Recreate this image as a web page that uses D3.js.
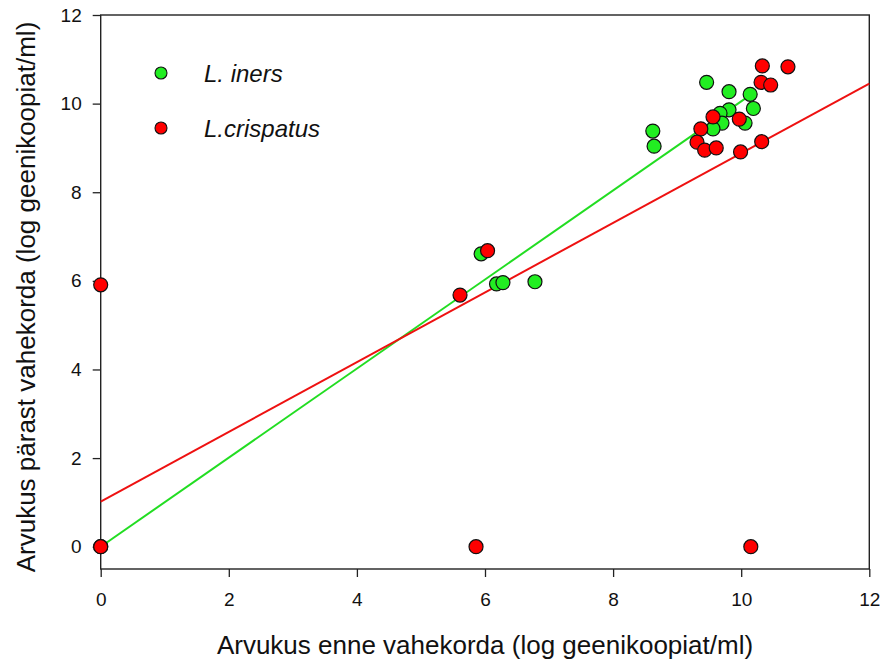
<!DOCTYPE html>
<html>
<head>
<meta charset="utf-8">
<script src="https://cdn.jsdelivr.net/npm/d3@7"></script>
<style>
body { margin: 0; background: #fff; }
text { font-family: "Liberation Sans", Arial, sans-serif; }
</style>
</head>
<body>
<div id="display-scatter"></div>
<script>
// L. iners points
var inersX = [0, 5.94, 6.18, 6.28, 6.78, 8.62, 8.64, 9.46, 9.81, 10.14, 10.19, 9.81, 9.67, 9.70, 9.56, 10.06];
var inersY = [0, 6.61, 5.93, 5.96, 5.98, 9.38, 9.04, 10.48, 10.27, 10.21, 9.89, 9.86, 9.78, 9.56, 9.43, 9.56];
// L. crispatus points
var crispX = [0, 0, 5.86, 10.15, 5.61, 6.04, 10.33, 10.73, 10.31, 10.46, 9.56, 9.97, 9.37, 9.31, 9.43, 9.61, 9.99, 10.32];
var crispY = [5.91, 0, 0, 0, 5.68, 6.68, 10.85, 10.83, 10.48, 10.42, 9.70, 9.65, 9.43, 9.13, 8.95, 9.00, 8.91, 9.14];
// regression lines: [intercept, slope, xFrom, xTo]
var inersFit = [0, 1.005, 0, 10.19];
var crispFit = [1.02, 0.786, 0, 12];

var xTicks = [0, 2, 4, 6, 8, 10, 12];
var yTicks = [0, 2, 4, 6, 8, 10, 12];
var seriesNames = ["L. iners", "L.crispatus"];
var seriesColors = ["#22ee22", "#ff0000"];
var lineColors = ["#22dd22", "#ee1111"];

var chart = {left: 100.7, right: 869.3, top: 15, bottom: 569};

var xScale = d3.scaleLinear()
                .domain([0, 12])
                .range([chart.left, chart.right]);
var yScale = d3.scaleLinear()
                .domain([0, 12])
                .range([546.7, 15]);

var svg = d3.select("#display-scatter")
            .append('svg')
            .attr('width', 884)
            .attr('height', 664);

var xAxis = d3.axisBottom(xScale).tickValues(xTicks).tickSize(8).tickPadding(16).tickSizeOuter(0);
var yAxis = d3.axisLeft(yScale).tickValues(yTicks).tickSize(8).tickPadding(11).tickSizeOuter(0);

svg.append('g')
    .attr('class', 'x-axis')
    .attr('transform', 'translate(0,' + chart.bottom + ')')
    .call(xAxis);

svg.append('g')
    .attr('class', 'y-axis')
    .attr('transform', 'translate(' + chart.left + ',0)')
    .call(yAxis);

svg.selectAll('.domain').remove();
svg.selectAll('.tick line').attr('stroke', '#222').attr('stroke-width', 1.3);
svg.selectAll('.tick text')
    .attr('fill', '#111')
    .style('font-size', '19px')
    .style('font-family', '"Liberation Sans", Arial, sans-serif');

// frame
svg.append('rect')
    .attr('x', chart.left)
    .attr('y', chart.top)
    .attr('width', chart.right - chart.left)
    .attr('height', chart.bottom - chart.top)
    .attr('fill', 'none')
    .attr('stroke', '#222')
    .attr('stroke-width', 1.4);

// fit lines
[inersFit, crispFit].forEach(function(f, i){
    svg.append('line')
        .attr('x1', xScale(f[2]))
        .attr('y1', yScale(f[0] + f[1] * f[2]))
        .attr('x2', xScale(f[3]))
        .attr('y2', yScale(f[0] + f[1] * f[3]))
        .attr('stroke', lineColors[i])
        .attr('stroke-width', 2);
});

var series = [d3.zip(inersX, inersY), d3.zip(crispX, crispY)];

series.forEach(function(pts, i){
    svg.append('g')
        .selectAll('circle')
        .data(pts)
        .enter()
        .append('circle')
        .attr('cx', function(d){ return xScale(d[0]); })
        .attr('cy', function(d){ return yScale(d[1]); })
        .attr('r', 7)
        .attr('fill', seriesColors[i])
        .attr('stroke', '#111')
        .attr('stroke-width', 1.2);
});

// legend
var legend = svg.append('g').attr('class', 'legend');
seriesNames.forEach(function(name, i){
    legend.append('circle')
        .attr('cx', 161)
        .attr('cy', 73 + i * 55)
        .attr('r', 6)
        .attr('fill', seriesColors[i])
        .attr('stroke', '#111')
        .attr('stroke-width', 1.1);
    legend.append('text')
        .attr('x', 204)
        .attr('y', 82 + i * 55)
        .style('font-size', '24px')
        .style('font-style', 'italic')
        .attr('fill', '#111')
        .text(name);
});

svg.append('text')
    .attr('x', (chart.left + chart.right) / 2)
    .attr('y', 654)
    .attr('text-anchor', 'middle')
    .style('font-size', '26px')
    .attr('fill', '#111')
    .text('Arvukus enne vahekorda (log geenikoopiat/ml)');

svg.append('text')
    .attr('transform', 'translate(35,297) rotate(-90)')
    .attr('text-anchor', 'middle')
    .style('font-size', '26px')
    .attr('fill', '#111')
    .text('Arvukus pärast vahekorda (log geenikoopiat/ml)');
</script>
</body>
</html>
